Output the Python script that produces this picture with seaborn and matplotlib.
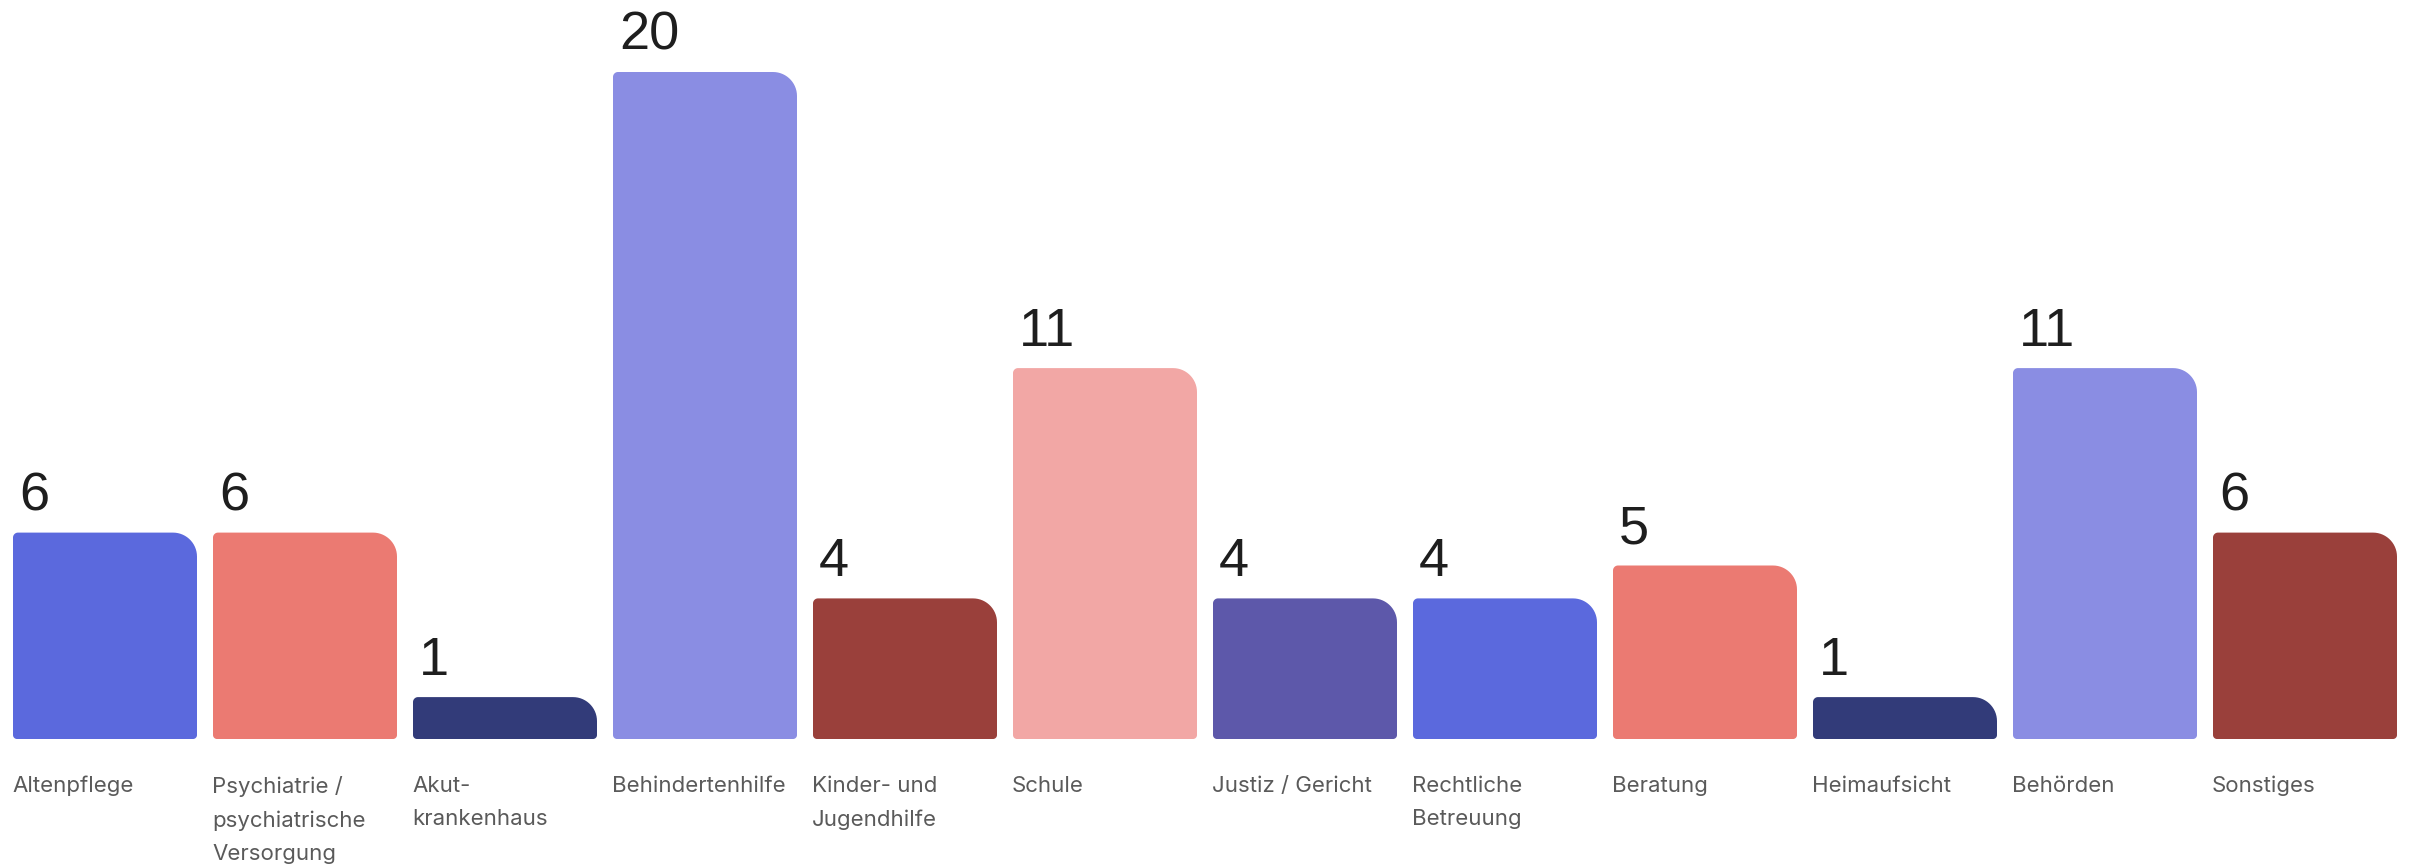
import numpy as np
import matplotlib
matplotlib.use("Agg")
import matplotlib.pyplot as plt
import seaborn as sns
import pandas as pd
from matplotlib.path import Path
from matplotlib.patches import PathPatch

categories = ["Altenpflege", "Psychiatrie /\npsychiatrische\nVersorgung", "Akut-\nkrankenhaus",
              "Behindertenhilfe", "Kinder- und\nJugendhilfe", "Schule", "Justiz / Gericht",
              "Rechtliche\nBetreuung", "Beratung", "Heimaufsicht", "Behörden", "Sonstiges"]
values = [6, 6, 1, 20, 4, 11, 4, 4, 5, 1, 11, 6]
colors = ["#5B69DD", "#EB7A72", "#323B79", "#8A8DE3", "#9A403B", "#F2A7A5",
          "#5D58AA", "#5B69DD", "#EB7A72", "#323B79", "#8A8DE3", "#9A403B"]

df = pd.DataFrame({"cat": categories, "val": values})

sns.set_theme(style="white")
W, H, DPI = 2410, 865, 100
fig = plt.figure(figsize=(W / DPI, H / DPI), dpi=DPI)
ax = fig.add_axes([0, 0, 1, 1])

sns.barplot(data=df, x="cat", y="val", hue="cat", palette=colors, width=0.92,
            saturation=1, legend=False, ax=ax)

pitch = 200.0            # px per category
yscale = 32.9            # px per unit
zero_px = 730.0          # from top
ax.set_xlim(-105 / pitch, -105 / pitch + W / pitch)
ax.set_ylim(-(H - zero_px) / yscale, zero_px / yscale)
ax.axis("off")

px_x = 1.0 / pitch
px_y = 1.0 / yscale


def arc(cx, cy, rx, ry, a0, a1, n=16):
    t = np.linspace(np.radians(a0), np.radians(a1), n)
    return list(zip(cx + rx * np.cos(t), cy + ry * np.sin(t)))


bottom_off = 9 * px_y
for p in list(ax.patches):
    x0, w, h = p.get_x(), p.get_width(), p.get_height()
    idx = int(round(x0 + w / 2))
    p.set_visible(False)
    y0 = -bottom_off
    y1 = h
    r_tr, r_tl, r_b = 24, 5, 4
    pts = []
    pts += arc(x0 + r_b * px_x, y0 + r_b * px_y, r_b * px_x, r_b * px_y, 180, 270)
    pts += arc(x0 + w - r_b * px_x, y0 + r_b * px_y, r_b * px_x, r_b * px_y, 270, 360)
    pts += arc(x0 + w - r_tr * px_x, y1 - r_tr * px_y, r_tr * px_x, r_tr * px_y, 0, 90)
    pts += arc(x0 + r_tl * px_x, y1 - r_tl * px_y, r_tl * px_x, r_tl * px_y, 90, 180)
    pts.append(pts[0])
    codes = [Path.MOVETO] + [Path.LINETO] * (len(pts) - 2) + [Path.CLOSEPOLY]
    patch = PathPatch(Path(pts, codes), facecolor=colors[idx], edgecolor="none")
    ax.add_patch(patch)
    # value label
    ax.text(x0 + 6 * px_x, h + 22 * px_y, str(values[idx]), ha="left", va="baseline",
            fontsize=39, color="#1e1e1e", family=["Liberation Sans", "DejaVu Sans"])
    # category label
    ax.text(x0 - 1 * px_x, -(776 - zero_px) * px_y, categories[idx], ha="left", va="top",
            fontsize=16, color="#5a5a5a", family=["Inter", "DejaVu Sans"], linespacing=1.8)

fig.savefig("out.png", dpi=DPI, facecolor="white")
